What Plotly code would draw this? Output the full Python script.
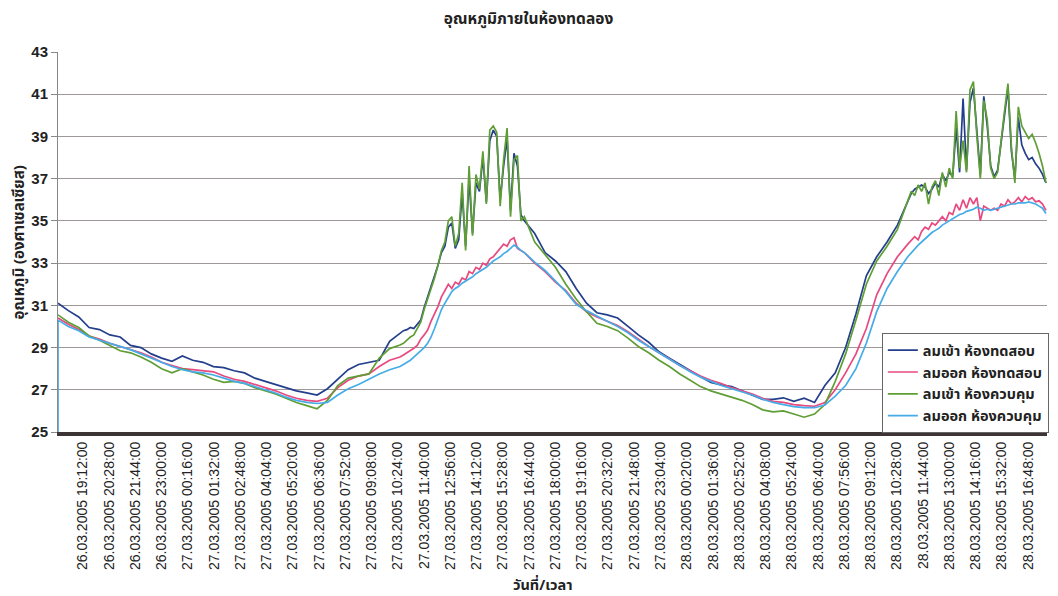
import pandas as pd
import plotly.graph_objects as go

# sample times: every 30 min overnight, every 10 min through the noisy midday peaks
seg_a = pd.date_range("2005-03-26 18:00", "2005-03-27 10:00", freq="30min")
seg_b = pd.date_range("2005-03-27 10:30", "2005-03-27 16:30", freq="10min")
seg_c = pd.date_range("2005-03-27 17:00", "2005-03-28 10:30", freq="30min")
seg_d = pd.date_range("2005-03-28 11:00", "2005-03-28 17:40", freq="10min")
times = seg_a.append([seg_b, seg_c, seg_d])

# ลมเข้า ห้องทดสอบ (inlet, test room)
test_in_a = [31.1, 30.75, 30.45, 29.95, 29.85, 29.6, 29.5, 29.1, 29.0, 28.7, 28.5,
             28.35, 28.6, 28.4, 28.3, 28.1, 28.05, 27.9, 27.8, 27.55, 27.4, 27.25,
             27.1, 26.95, 26.85, 26.75, 27.05, 27.5, 27.95, 28.2, 28.3, 28.4, 29.3]
test_in_b = [29.7, 29.8, 29.85, 29.95, 29.9, 30.1, 30.3, 30.9, 31.4, 31.8, 32.4, 32.9,
             33.5, 33.8, 34.7, 34.9, 33.7, 34.1, 36.3, 33.8, 37.0, 34.4, 36.8, 36.4,
             38.0, 35.9, 38.8, 39.3, 39.0, 36.0, 37.6, 38.9, 35.5, 38.2, 37.6, 35.3, 35.0]
test_in_c = [34.4, 33.5, 33.1, 32.6, 31.8, 31.1, 30.65, 30.55, 30.4, 30.0, 29.6, 29.25,
             28.8, 28.5, 28.2, 27.9, 27.62, 27.35, 27.23, 27.15, 26.95, 26.75, 26.55,
             26.55, 26.62, 26.45, 26.6, 26.4, 27.2, 27.8, 29.0, 30.6, 32.4, 33.3, 34.0, 34.8]
test_in_d = [35.9, 36.3, 36.5, 36.6, 36.7, 36.6, 36.3, 36.5, 36.8, 36.6, 37.2, 36.9,
             37.3, 37.1, 39.4, 37.3, 40.8, 37.4, 40.6, 41.3, 39.2, 37.2, 40.9, 39.5,
             37.6, 37.1, 37.4, 38.6, 40.0, 41.3, 38.3, 37.0, 39.9, 38.6, 38.2, 37.9,
             38.0, 37.7, 37.5, 37.2, 36.8]

# ลมออก ห้องทดสอบ (outlet, test room)
test_out_a = [30.4, 30.1, 29.85, 29.55, 29.4, 29.2, 29.05, 28.9, 28.75, 28.55, 28.3,
              28.15, 28.0, 27.95, 27.9, 27.85, 27.65, 27.5, 27.4, 27.25, 27.1, 26.95,
              26.75, 26.6, 26.5, 26.45, 26.6, 27.1, 27.45, 27.65, 27.75, 28.1, 28.4]
test_out_b = [28.55, 28.65, 28.75, 28.85, 28.97, 29.1, 29.4, 29.6, 29.83, 30.25, 30.6,
              30.95, 31.4, 31.7, 32.0, 31.8, 32.1, 32.0, 32.3, 32.2, 32.6, 32.5, 32.8,
              32.7, 33.0, 32.9, 33.2, 33.3, 33.5, 33.7, 33.9, 33.8, 34.1, 34.2, 33.7,
              33.6, 33.5]
test_out_c = [33.0, 32.6, 32.1, 31.7, 31.1, 30.7, 30.45, 30.25, 30.05, 29.75, 29.4,
              29.05, 28.75, 28.45, 28.15, 27.9, 27.65, 27.45, 27.3, 27.1, 26.95, 26.8,
              26.6, 26.45, 26.4, 26.3, 26.25, 26.22, 26.4, 27.0, 27.8, 28.7, 29.9,
              31.5, 32.5, 33.3]
test_out_d = [33.9, 34.1, 34.25, 34.1, 34.5, 34.7, 34.6, 34.9, 34.8, 35.0, 35.2, 35.0,
              35.4, 35.3, 35.8, 35.5, 36.0, 35.6, 36.1, 35.8, 36.1, 35.0, 35.7, 35.6,
              35.5, 35.6, 35.5, 35.8, 35.7, 36.0, 35.8, 35.9, 36.1, 35.9, 36.15, 36.0,
              36.1, 35.9, 35.95, 35.8, 35.5]

# ลมเข้า ห้องควบคุม (inlet, control room)
ctrl_in_a = [30.55, 30.2, 29.95, 29.55, 29.35, 29.1, 28.85, 28.75, 28.55, 28.3, 28.0,
             27.8, 28.0, 27.85, 27.7, 27.5, 27.35, 27.4, 27.3, 27.1, 26.95, 26.8,
             26.6, 26.4, 26.25, 26.1, 26.5, 27.2, 27.55, 27.65, 27.75, 28.5, 28.95]
ctrl_in_b = [29.12, 29.2, 29.35, 29.5, 29.6, 29.9, 30.2, 30.8, 31.3, 31.7, 32.3, 32.9,
             33.6, 34.0, 35.0, 35.2, 33.8, 34.4, 36.8, 33.6, 37.6, 34.3, 37.2, 36.5,
             38.3, 35.8, 39.3, 39.5, 39.2, 35.7, 37.9, 39.4, 35.2, 37.9, 38.1, 35.0, 35.2]
ctrl_in_c = [34.0, 33.4, 32.8, 32.0, 31.3, 30.7, 30.15, 30.0, 29.8, 29.45, 29.05, 28.75,
             28.4, 28.1, 27.75, 27.45, 27.15, 26.95, 26.8, 26.65, 26.5, 26.3, 26.05,
             25.95, 26.0, 25.85, 25.7, 25.85, 26.3, 27.4, 28.7, 30.3, 32.0, 33.1, 33.8, 34.6]
ctrl_in_d = [35.9, 36.4, 36.2, 36.7, 36.4, 36.8, 35.8, 36.6, 36.9, 36.2, 37.3, 36.6,
             37.5, 37.0, 40.2, 37.5, 38.8, 37.3, 41.2, 41.6, 39.0, 37.0, 40.7, 39.8,
             37.5, 37.0, 37.3, 38.9, 40.2, 41.5, 38.5, 36.8, 40.4, 39.5, 39.2, 38.9,
             39.1, 38.7, 38.2, 37.6, 36.8]

# ลมออก ห้องควบคุม (outlet, control room); the logger's first reading was off-scale
ctrl_out_first = 0.0
ctrl_out_a = [30.3, 30.0, 29.8, 29.5, 29.35, 29.2, 29.05, 28.9, 28.7, 28.5, 28.3, 28.1,
              27.95, 27.85, 27.8, 27.7, 27.55, 27.4, 27.3, 27.15, 27.0, 26.85, 26.65,
              26.5, 26.4, 26.35, 26.4, 26.75, 27.05, 27.25, 27.5, 27.75, 27.95]
ctrl_out_b = [28.1, 28.2, 28.3, 28.4, 28.55, 28.7, 28.85, 29.0, 29.2, 29.5, 29.9, 30.4,
              30.8, 31.1, 31.4, 31.65, 31.8, 31.9, 32.05, 32.15, 32.25, 32.35, 32.5,
              32.6, 32.7, 32.8, 32.95, 33.1, 33.2, 33.3, 33.45, 33.55, 33.7, 33.85,
              33.75, 33.6, 33.5]
ctrl_out_c = [33.05, 32.65, 32.15, 31.65, 31.05, 30.75, 30.5, 30.25, 30.0, 29.7, 29.35,
              29.05, 28.75, 28.45, 28.15, 27.85, 27.6, 27.4, 27.2, 27.05, 26.9, 26.75,
              26.55, 26.4, 26.3, 26.2, 26.15, 26.15, 26.28, 26.7, 27.2, 28.0, 29.2,
              30.7, 31.8, 32.6]
ctrl_out_d = [33.3, 33.5, 33.7, 33.85, 34.0, 34.15, 34.3, 34.45, 34.55, 34.65, 34.8,
              34.9, 35.0, 35.1, 35.2, 35.3, 35.35, 35.45, 35.5, 35.55, 35.65, 35.6,
              35.5, 35.55, 35.5, 35.55, 35.6, 35.65, 35.7, 35.75, 35.8, 35.8, 35.85,
              35.85, 35.85, 35.9, 35.85, 35.8, 35.7, 35.6, 35.35]

tick_labels = [
    "26.03.2005 19:12:00", "26.03.2005 20:28:00", "26.03.2005 21:44:00",
    "26.03.2005 23:00:00", "27.03.2005 00:16:00", "27.03.2005 01:32:00",
    "27.03.2005 02:48:00", "27.03.2005 04:04:00", "27.03.2005 05:20:00",
    "27.03.2005 06:36:00", "27.03.2005 07:52:00", "27.03.2005 09:08:00",
    "27.03.2005 10:24:00", "27.03.2005 11:40:00", "27.03.2005 12:56:00",
    "27.03.2005 14:12:00", "27.03.2005 15:28:00", "27.03.2005 16:44:00",
    "27.03.2005 18:00:00", "27.03.2005 19:16:00", "27.03.2005 20:32:00",
    "27.03.2005 21:48:00", "27.03.2005 23:04:00", "28.03.2005 00:20:00",
    "28.03.2005 01:36:00", "28.03.2005 02:52:00", "28.03.2005 04:08:00",
    "28.03.2005 05:24:00", "28.03.2005 06:40:00", "28.03.2005 07:56:00",
    "28.03.2005 09:12:00", "28.03.2005 10:28:00", "28.03.2005 11:44:00",
    "28.03.2005 13:00:00", "28.03.2005 14:16:00", "28.03.2005 15:32:00",
    "28.03.2005 16:48:00",
]
tick_vals = pd.to_datetime(tick_labels, format="%d.%m.%Y %H:%M:%S")

series = [
    ("ลมเข้า ห้องทดสอบ", test_in_a + test_in_b + test_in_c + test_in_d, "#233f8c"),
    ("ลมออก ห้องทดสอบ", test_out_a + test_out_b + test_out_c + test_out_d, "#e84a80"),
    ("ลมเข้า ห้องควบคุม", ctrl_in_a + ctrl_in_b + ctrl_in_c + ctrl_in_d, "#5f9e35"),
    ("ลมออก ห้องควบคุม", [ctrl_out_first] + ctrl_out_a + ctrl_out_b + ctrl_out_c + ctrl_out_d, "#45ace8"),
]

FONT = "Tahoma, 'Noto Sans Thai', 'Liberation Sans', Arial, sans-serif"

fig = go.Figure()
for name, vals, color in series:
    xs = list(times) if len(vals) == len(times) else [times[0]] + list(times)
    assert len(xs) == len(vals), name
    fig.add_trace(go.Scatter(x=xs, y=vals, name=name, mode="lines",
                             line=dict(color=color, width=1.7)))

# the page body adds an 8px offset, so margins are trimmed on the left/top
fig.update_layout(
    width=1058, height=596,
    margin=dict(l=50, r=19, t=44, b=172),
    paper_bgcolor="white", plot_bgcolor="white",
    font=dict(family=FONT, color="#222222"),
    title=dict(text="<b>อุณหภูมิภายในห้องทดลอง</b>", x=0.492, xref="container",
               y=0.983, yref="container", xanchor="center", yanchor="middle",
               font=dict(size=15.5)),
    legend=dict(x=0.833, y=0.26, xanchor="left", yanchor="top", bgcolor="white",
                bordercolor="#666666", borderwidth=1, font=dict(size=14.5, weight="bold"),
                itemwidth=30),
    annotations=[
        dict(text="<b>อุณหภูมิ (องศาเซลเซียส)</b>", textangle=-90, x=-0.039, y=0.50,
             xref="paper", yref="paper", xanchor="center", yanchor="middle",
             showarrow=False, font=dict(size=15)),
        dict(text="<b>วันที่/เวลา</b>", x=0.49, y=-0.405, xref="paper", yref="paper",
             xanchor="center", yanchor="middle", showarrow=False, font=dict(size=14.5)),
    ],
)
fig.update_xaxes(
    type="date", range=["2005-03-26 18:00", "2005-03-28 17:43"],
    tickvals=tick_vals, ticktext=tick_labels, tickangle=-90,
    tickfont=dict(family="'Liberation Sans', Arial, sans-serif", size=14, color="#222222"),
    showgrid=False, zeroline=False, showline=True, linewidth=4, linecolor="#3d3535",
    ticks="", automargin=False,
)
fig.update_yaxes(
    range=[25, 43], tick0=25, dtick=2, showgrid=True, gridcolor="#9e9898", gridwidth=1,
    zeroline=False, showline=True, linewidth=1, linecolor="#888888",
    ticks="outside", ticklen=6, tickcolor="#888888",
    tickfont=dict(family="'Liberation Sans', Arial, sans-serif", size=15, color="#222222", weight="bold"),
    automargin=False,
)

fig.write_html("out.html")
